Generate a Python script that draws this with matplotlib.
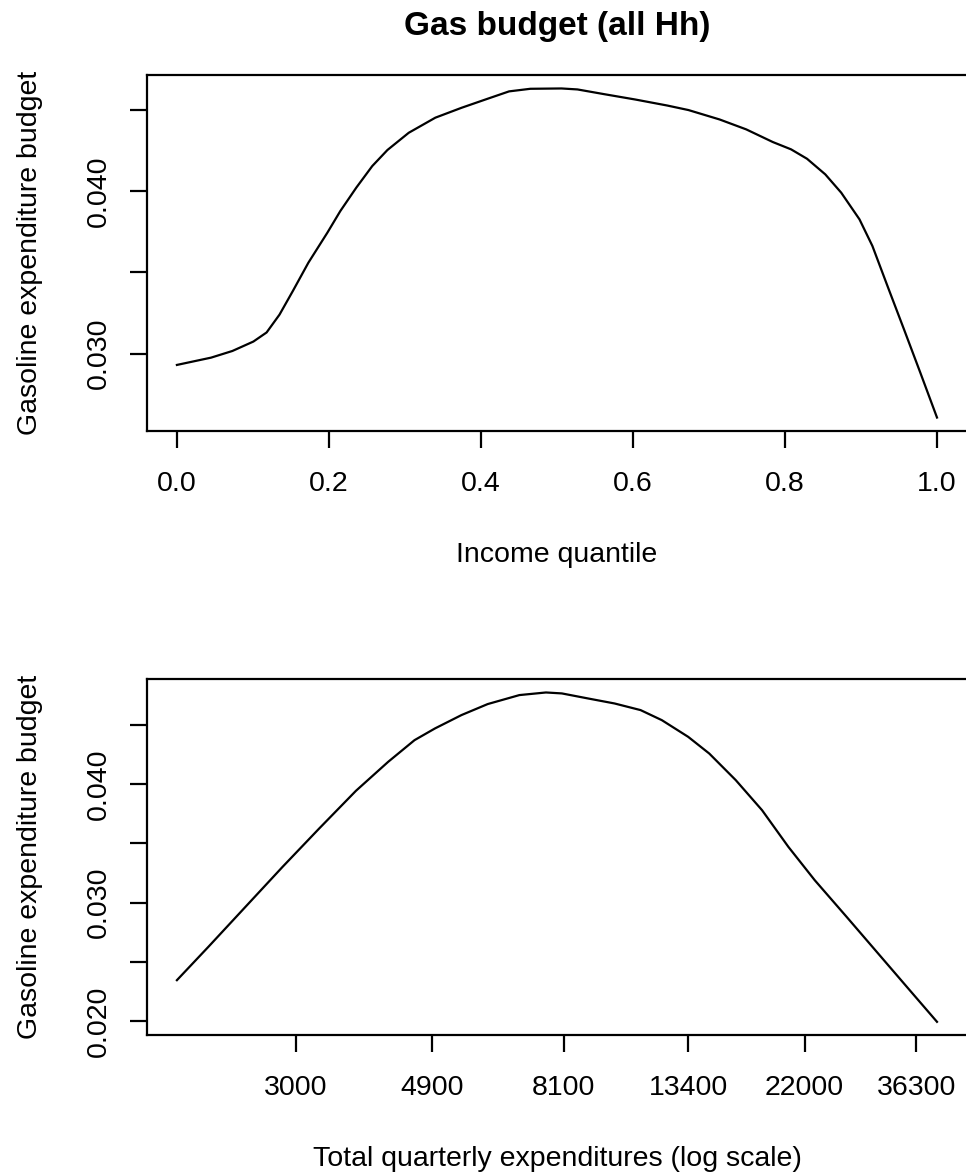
import numpy as np
import matplotlib
matplotlib.use("Agg")
import matplotlib.pyplot as plt

plt.rcParams['font.family'] = ['Liberation Sans', 'DejaVu Sans']

# ---- data: top panel (income quantile) ----
income_q = [0, 0.045, 0.073, 0.1006, 0.118, 0.135, 0.1526, 0.173, 0.198, 0.215,
            0.236, 0.257, 0.277, 0.305, 0.340, 0.3745, 0.409, 0.437, 0.465, 0.506,
            0.527, 0.562, 0.603, 0.645, 0.673, 0.714, 0.749, 0.784, 0.808, 0.829,
            0.853, 0.874, 0.898, 0.915, 0.936, 0.957, 0.978, 1.0]
budget_q = [0.0293, 0.02975, 0.03016, 0.03074, 0.0313, 0.0324, 0.03386, 0.0356,
            0.03745, 0.03878, 0.04022, 0.04155, 0.04254, 0.0436, 0.04453, 0.04514,
            0.0457, 0.04615, 0.04631, 0.04633, 0.04627, 0.04598, 0.04565, 0.04528,
            0.045, 0.04442, 0.04381, 0.04303, 0.04258, 0.042, 0.04104, 0.03991,
            0.03827, 0.03663, 0.03402, 0.03144, 0.02883, 0.02606]

# ---- data: bottom panel (total quarterly expenditures) ----
expend = [2000, 2222, 2520, 2864, 3256, 3712, 4171, 4593, 4954, 5470, 6040, 6820,
          7560, 8045, 8930, 9920, 11020, 12020, 13400, 14630, 16360, 18300, 20500,
          23000, 26480, 30500, 35200, 39900]
budget_e = [0.02344, 0.02626, 0.02964, 0.03302, 0.03626, 0.03945, 0.0419, 0.04373,
            0.04472, 0.04585, 0.04678, 0.04754, 0.04776, 0.04768, 0.04725, 0.04683,
            0.04627, 0.04542, 0.04401, 0.0426, 0.04035, 0.03781, 0.03471, 0.03189,
            0.02879, 0.02569, 0.02259, 0.01992]

q_ticks = [0.0, 0.2, 0.4, 0.6, 0.8, 1.0]
q_ticklabels = ['0.0', '0.2', '0.4', '0.6', '0.8', '1.0']
e_ticks = [3000, 4900, 8100, 13400, 22000, 36300]
e_ticklabels = ['3000', '4900', '8100', '13400', '22000', '36300']
y_top_ticks = [0.030, 0.035, 0.040, 0.045]
y_top_labels = ['0.030', '', '0.040', '']
y_bot_ticks = [0.020, 0.025, 0.030, 0.035, 0.040, 0.045]
y_bot_labels = ['0.020', '', '0.030', '', '0.040', '']

W, H = 966, 1175
fig = plt.figure(figsize=(W / 100, H / 100), dpi=100)

FS = 20.5
LW = 1.6


def px_axes(left, right, top, bottom):
    return [left / W, 1 - bottom / H, (right - left) / W, (bottom - top) / H]


ax1 = fig.add_axes(px_axes(146.5, 967.4, 75.3, 430.7))
ax2 = fig.add_axes(px_axes(146.5, 967.4, 679.3, 1035.0))


def style(ax):
    for s in ax.spines.values():
        s.set_linewidth(LW)
    ax.tick_params(axis='both', which='major', direction='out', length=12,
                   width=LW, labelsize=FS, top=False, right=False)
    ax.tick_params(axis='x', pad=17)
    ax.tick_params(axis='y', pad=13)
    ax.minorticks_off()


# top panel
ax1.plot(income_q, budget_q, color='black', lw=LW)
ax1.set_xlim(-0.04, 1.04)
ymin, ymax = min(budget_q), max(budget_q)
d = ymax - ymin
ax1.set_ylim(ymin - 0.04 * d, ymax + 0.04 * d)
ax1.set_xticks(q_ticks)
ax1.set_xticklabels(q_ticklabels)
ax1.set_yticks(y_top_ticks)
ax1.set_yticklabels(y_top_labels)
style(ax1)
ax1.set_title('Gas budget (all Hh)', fontsize=24, fontweight='bold', pad=29)
ax1.set_xlabel('Income quantile', fontsize=FS, va='baseline')
ax1.xaxis.set_label_coords(0.5, -131 / 355.4)
ax1.set_ylabel('Gasoline expenditure budget', fontsize=FS, va='center')
ax1.yaxis.set_label_coords((30 - 146.5) / 820.9, 0.5)

# bottom panel: double-log scale
fwd = lambda x: np.log(np.log(x))
inv = lambda u: np.exp(np.exp(u))
ax2.set_xscale('function', functions=(fwd, inv))
ax2.plot(expend, budget_e, color='black', lw=LW)
u0, u1 = fwd(min(expend)), fwd(max(expend))
du = u1 - u0
ax2.set_xlim(inv(u0 - 0.04 * du), inv(u1 + 0.04 * du))
ymin, ymax = min(budget_e), max(budget_e)
d = ymax - ymin
ax2.set_ylim(ymin - 0.04 * d, ymax + 0.04 * d)
ax2.set_xticks(e_ticks)
ax2.set_xticklabels(e_ticklabels)
ax2.set_yticks(y_bot_ticks)
ax2.set_yticklabels(y_bot_labels)
style(ax2)
ax2.set_xlabel('Total quarterly expenditures (log scale)', fontsize=FS, va='baseline')
ax2.xaxis.set_label_coords(0.5, -131 / 355.7)
ax2.set_ylabel('Gasoline expenditure budget', fontsize=FS, va='center')
ax2.yaxis.set_label_coords((30 - 146.5) / 820.9, 0.5)

for ax in (ax1, ax2):
    for lab in ax.get_yticklabels():
        lab.set_rotation(90)
        lab.set_va('center')

fig.savefig('out.png', dpi=100, facecolor='white')
